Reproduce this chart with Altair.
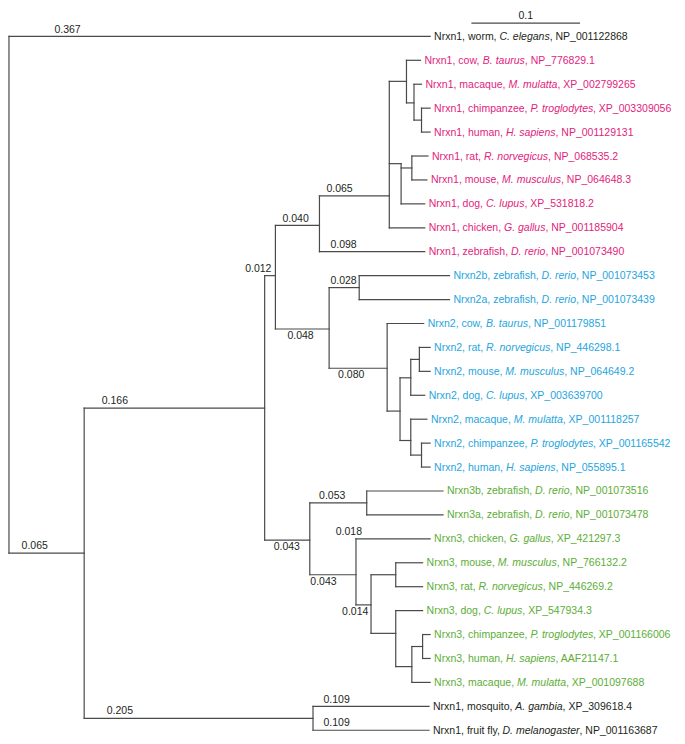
import altair as alt
import pandas as pd

# ---------------- data ----------------
# leaves, top to bottom
leaf_gene = ["Nrxn1", "Nrxn1", "Nrxn1", "Nrxn1", "Nrxn1", "Nrxn1", "Nrxn1", "Nrxn1", "Nrxn1", "Nrxn1",
             "Nrxn2b", "Nrxn2a", "Nrxn2", "Nrxn2", "Nrxn2", "Nrxn2", "Nrxn2", "Nrxn2", "Nrxn2",
             "Nrxn3b", "Nrxn3a", "Nrxn3", "Nrxn3", "Nrxn3", "Nrxn3", "Nrxn3", "Nrxn3", "Nrxn3",
             "Nrxn1", "Nrxn1"]
leaf_common = ["worm", "cow", "macaque", "chimpanzee", "human", "rat", "mouse", "dog", "chicken", "zebrafish",
               "zebrafish", "zebrafish", "cow", "rat", "mouse", "dog", "macaque", "chimpanzee", "human",
               "zebrafish", "zebrafish", "chicken", "mouse", "rat", "dog", "chimpanzee", "human", "macaque",
               "mosquito", "fruit fly"]
leaf_species = ["C. elegans", "B. taurus", "M. mulatta", "P. troglodytes", "H. sapiens", "R. norvegicus",
                "M. musculus", "C. lupus", "G. gallus", "D. rerio",
                "D. rerio", "D. rerio", "B. taurus", "R. norvegicus", "M. musculus", "C. lupus", "M. mulatta",
                "P. troglodytes", "H. sapiens",
                "D. rerio", "D. rerio", "G. gallus", "M. musculus", "R. norvegicus", "C. lupus",
                "P. troglodytes", "H. sapiens", "M. mulatta",
                "A. gambia", "D. melanogaster"]
leaf_accession = ["NP_001122868", "NP_776829.1", "XP_002799265", "XP_003309056", "NP_001129131",
                  "NP_068535.2", "NP_064648.3", "XP_531818.2", "NP_001185904", "NP_001073490",
                  "NP_001073453", "NP_001073439", "NP_001179851", "NP_446298.1", "NP_064649.2",
                  "XP_003639700", "XP_001118257", "XP_001165542", "NP_055895.1",
                  "NP_001073516", "NP_001073478", "XP_421297.3", "NP_766132.2", "NP_446269.2",
                  "XP_547934.3", "XP_001166006", "AAF21147.1", "XP_001097688",
                  "XP_309618.4", "NP_001163687"]
leaf_group = ["other"] + ["Nrxn1"] * 9 + ["Nrxn2"] * 9 + ["Nrxn3"] * 9 + ["other", "other"]
leaf_parent = ["root", "n1cp", "n1p", "n1ch", "n1ch", "n1r", "n1r", "n1rd", "n1m", "n1",
               "n2z", "n2z", "n2m", "n2r", "n2r", "n2rd", "n2p", "n2ch", "n2ch",
               "n3z", "n3z", "n3t", "n3r", "n3r", "n3v", "n3ch", "n3ch", "n3w",
               "insect", "insect"]
# distance of each leaf tip from the root (substitutions per site)
leaf_depth = [0.392, 0.383, 0.384, 0.392, 0.392, 0.390, 0.389, 0.387, 0.387, 0.387,
              0.410, 0.410, 0.386, 0.392, 0.392, 0.387, 0.389, 0.392, 0.392,
              0.404, 0.404, 0.392, 0.385, 0.385, 0.385, 0.392, 0.392, 0.392,
              0.391, 0.391]

# internal nodes
node_id = ["root", "bil", "vert", "insect", "n12", "n3", "n1", "n2", "n1m", "n1cp", "n1p", "n1ch",
           "n1rd", "n1r", "n2z", "n2m", "n2x", "n2rd", "n2r", "n2p", "n2ch",
           "n3z", "n3t", "n3u", "n3r", "n3v", "n3w", "n3ch"]
node_parent = [None, "root", "bil", "bil", "vert", "vert", "n12", "n12", "n1", "n1m", "n1cp", "n1p",
               "n1m", "n1rd", "n2", "n2", "n2m", "n2x", "n2rd", "n2x", "n2p",
               "n3", "n3", "n3t", "n3u", "n3u", "n3v", "n3w"]
node_depth = [0.000, 0.070, 0.238, 0.283, 0.248, 0.280, 0.289, 0.298, 0.354, 0.370, 0.377, 0.384,
              0.365, 0.375, 0.326, 0.352, 0.364, 0.374, 0.382, 0.374, 0.384,
              0.333, 0.323, 0.337, 0.360, 0.360, 0.375, 0.385]
# vertical position in leaf rows (0 = top leaf)
node_row = [10.8, 21.6, 15.54, 28.5, 10.0, 21.05, 7.9, 12.23, 6.67, 1.88, 2.78, 3.5,
            5.32, 5.5, 10.5, 13.87, 15.66, 14.27, 13.5, 16.89, 17.5,
            19.5, 22.5, 23.76, 22.5, 24.95, 26.34, 25.5]

# branch length labels: text, branch (child node), side, anchor offset from branch start
bl_text = ["0.367", "0.065", "0.166", "0.205", "0.012", "0.040", "0.048", "0.065", "0.098",
           "0.028", "0.080", "0.043", "0.053", "0.043", "0.018", "0.014", "0.109", "0.109"]
bl_node = ["L0", "bil", "vert", "insect", "n12", "n1", "n2", "n1m", "L9",
           "n2z", "n2m", "n3", "n3z", "n3t", "L21", "n3u", "L28", "L29"]
bl_side = ["above", "above", "above", "above", "above", "above", "below", "above", "above",
           "above", "below", "below", "above", "below", "above", "below", "above", "above"]
bl_shift = [0.0545, 0.024, 0.0286, 0.0332, -0.0059, 0.0188, 0.0234, 0.0187, 0.0224,
            0.0134, 0.0206, 0.0206, 0.0209, 0.0127, -0.0066, -0.0007, 0.022, 0.022]

scale_bar_length = 0.1
scale_bar_start = 0.431
scale_bar_row = -0.55
scale_label_row = -0.86

group_domain = ["Nrxn1", "Nrxn2", "Nrxn3", "other"]
group_colors = ["#E2237D", "#25A5DE", "#5CAE36", "#231F20"]

# ---------------- layout helpers ----------------
W, H = 669, 728
X_DOM = [-0.0009, 0.6218]
Y_DOM = [-1.186, 29.24]
FONT = "Liberation Sans"
FS = 10.5
LINE = "#4a4a4a"
px_per_unit = W / (X_DOM[1] - X_DOM[0])
gap = 4.0 / px_per_unit

ARIAL = {' ': 278, ',': 278, '.': 278, '_': 556,
         'A': 667, 'B': 667, 'C': 722, 'D': 722, 'E': 667, 'F': 611, 'G': 778, 'H': 722, 'I': 278,
         'J': 500, 'K': 667, 'L': 556, 'M': 833, 'N': 722, 'O': 778, 'P': 667, 'Q': 778, 'R': 722,
         'S': 667, 'T': 611, 'U': 722, 'V': 667, 'W': 944, 'X': 667, 'Y': 667, 'Z': 611,
         'a': 556, 'b': 556, 'c': 500, 'd': 556, 'e': 556, 'f': 278, 'g': 556, 'h': 556, 'i': 222,
         'j': 222, 'k': 500, 'l': 222, 'm': 833, 'n': 556, 'o': 556, 'p': 556, 'q': 556, 'r': 333,
         's': 500, 't': 278, 'u': 556, 'v': 500, 'w': 722, 'x': 500, 'y': 500, 'z': 500}
KERN = {"P.": -152, "P,": -152, "y,": -111, "y.": -111, "r,": -111, "r.": -111}


def text_units(s):
    w = sum(ARIAL.get(c, 556) for c in s)
    w += sum(KERN.get(s[k:k + 2], 0) for k in range(len(s) - 1))
    return w / 1000.0 * FS / px_per_unit


leaf_id = [f"L{i}" for i in range(len(leaf_gene))]
parent = dict(zip(node_id + leaf_id, node_parent + leaf_parent))
depth = dict(zip(node_id + leaf_id, node_depth + leaf_depth))
row = dict(zip(node_id + leaf_id, node_row + list(range(len(leaf_gene)))))

segs = []
children = {}
for n in node_id + leaf_id:
    p = parent[n]
    if p is None:
        continue
    children.setdefault(p, []).append(n)
    segs.append(dict(x=depth[p], x2=depth[n], y=row[n], y2=row[n]))
for p, ch in children.items():
    ys = [row[c] for c in ch]
    if parent[p] is not None:
        ys.append(row[p])
    segs.append(dict(x=depth[p], x2=depth[p], y=min(ys), y2=max(ys)))
segs.append(dict(x=scale_bar_start, x2=scale_bar_start + scale_bar_length,
                 y=scale_bar_row, y2=scale_bar_row))
seg_df = pd.DataFrame(segs)

normal_rows, italic_rows = [], []
for i in range(len(leaf_gene)):
    pre = f"{leaf_gene[i]}, {leaf_common[i]}, "
    sp = leaf_species[i]
    suf = f", {leaf_accession[i]}"
    x0 = leaf_depth[i] + gap
    x1 = x0 + text_units(pre)
    x2 = x1 + text_units(sp)
    normal_rows.append(dict(x=x0, y=i, t=pre, g=leaf_group[i]))
    italic_rows.append(dict(x=x1, y=i, t=sp, g=leaf_group[i]))
    normal_rows.append(dict(x=x2, y=i, t=suf, g=leaf_group[i]))
norm_df = pd.DataFrame(normal_rows)
ital_df = pd.DataFrame(italic_rows)

bl_rows = []
for t, n, s, sh in zip(bl_text, bl_node, bl_side, bl_shift):
    bl_rows.append(dict(x=depth[parent[n]] + sh, y=row[n], t=t, side=s))
bl_df = pd.DataFrame(bl_rows)

sb_df = pd.DataFrame([dict(x=scale_bar_start + scale_bar_length / 2, y=scale_label_row,
                           t=f"{scale_bar_length:g}")])

xs = alt.Scale(domain=X_DOM, nice=False, zero=False)
ys = alt.Scale(domain=Y_DOM, nice=False, zero=False, reverse=True)
cs = alt.Scale(domain=group_domain, range=group_colors)

X = alt.X("x:Q", scale=xs, axis=None)
Y = alt.Y("y:Q", scale=ys, axis=None)

rules = alt.Chart(seg_df).mark_rule(color=LINE, strokeWidth=1.2, strokeCap="square").encode(
    x=X, x2="x2:Q", y=Y, y2="y2:Q")

above = alt.Chart(bl_df).transform_filter(alt.datum.side == "above").mark_text(
    font=FONT, fontSize=FS, color="#231F20", align="center", baseline="middle", dy=-6.8
).encode(x=X, y=Y, text="t:N")
below = alt.Chart(bl_df).transform_filter(alt.datum.side == "below").mark_text(
    font=FONT, fontSize=FS, color="#231F20", align="center", baseline="middle", dy=7
).encode(x=X, y=Y, text="t:N")

sb_text = alt.Chart(sb_df).mark_text(
    font=FONT, fontSize=FS, color="#231F20", align="center", baseline="middle"
).encode(x=X, y=Y, text="t:N")

leaf_norm = alt.Chart(norm_df).mark_text(
    font=FONT, fontSize=FS, align="left", baseline="middle", dy=0.5
).encode(x=X, y=Y, text="t:N", color=alt.Color("g:N", scale=cs, legend=None))
leaf_ital = alt.Chart(ital_df).mark_text(
    font=FONT, fontSize=FS, fontStyle="italic", align="left", baseline="middle", dy=0.5
).encode(x=X, y=Y, text="t:N", color=alt.Color("g:N", scale=cs, legend=None))

chart = alt.layer(rules, above, below, sb_text, leaf_norm, leaf_ital).properties(
    width=W, height=H, padding=0, autosize=alt.AutoSizeParams(type="none")
).configure_view(stroke=None)

chart.save("out.html", embed_options={"renderer": "svg", "actions": False})
